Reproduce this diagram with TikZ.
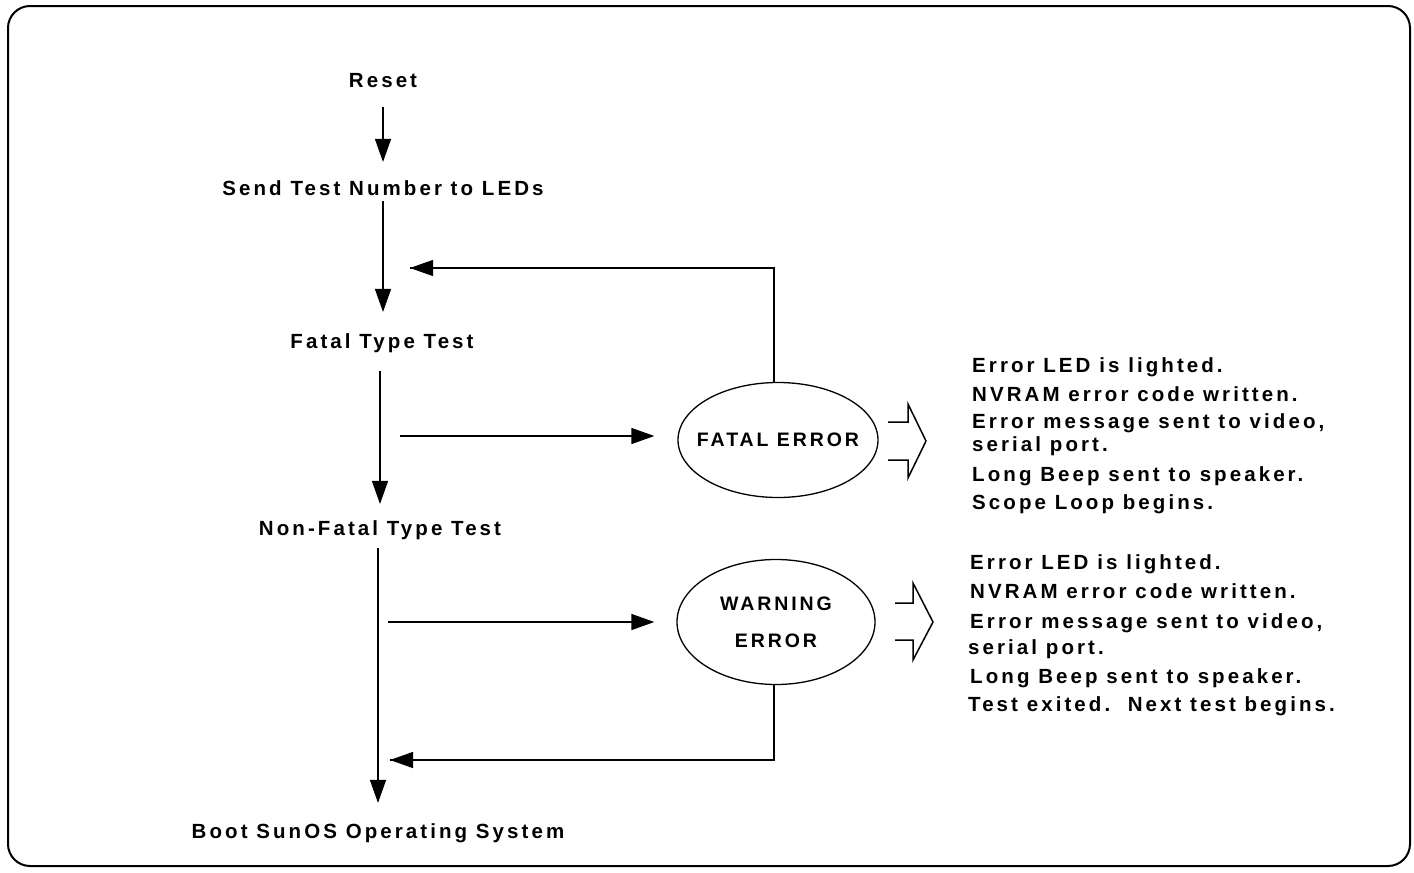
\documentclass[tikz,border=0pt]{standalone}
\usepackage{fontspec}
\setmainfont{Liberation Sans}[LetterSpace=15]
\usetikzlibrary{arrows.meta,shapes.geometric}
\tikzset{
  txtfont/.style={font=\fontsize{20.5}{22}\selectfont\bfseries},
  lbl/.style={txtfont, inner sep=0pt, anchor=base},
  info/.style={txtfont, inner sep=0pt, anchor=base west},
  arr/.style={line width=1.3pt, -{Triangle[length=23pt,width=16pt]}},
  plain/.style={line width=1.3pt},
  oval/.style={draw, ellipse, line width=1.3pt, inner sep=0pt},
  ovaltext/.style={font=\fontsize{19.5}{37}\selectfont\bfseries, align=center, inner sep=0pt},
  hollow/.style={line width=1.5pt, line join=miter}
}
\begin{document}
\begin{tikzpicture}[x=1pt,y=-1pt]
\useasboundingbox (0,0) rectangle (1414,873);
\draw[line width=2pt, rounded corners=22pt] (8,6) rectangle (1410,866);

\node[lbl] (reset) at (383,87) {Reset};
\node[lbl] (send) at (383,195) {Send Test Number to LEDs};
\node[lbl] (fatalt) at (382,348) {Fatal Type Test};
\node[lbl] (nonfatal) at (380,535) {Non-Fatal Type Test};
\node[lbl] (boot) at (378,838) {Boot SunOS Operating System};

\node[oval, minimum width=200pt, minimum height=115pt,
      label={[ovaltext]center:FATAL ERROR}] (fatal) at (778,440) {};
\node[oval, minimum width=198pt, minimum height=125pt,
      label={[ovaltext]center:WARNING\\ERROR}] (warn) at (776,622) {};

% main column
\draw[arr, shorten <=20pt, shorten >=18pt] (reset.south) -- (reset.south |- send.north);
\draw[arr, shorten <=6pt, shorten >=21pt] (send.south) -- (send.south |- fatalt.north);
\draw[arr, shorten <=19pt, shorten >=16pt] ([xshift=-2pt]fatalt.south) -- ([xshift=-2pt]fatalt.south |- nonfatal.north);
\draw[arr, shorten <=9pt, shorten >=20pt] ([xshift=-2pt]nonfatal.south) -- ([xshift=-2pt]nonfatal.south |- boot.north);

% to error ovals
\coordinate (f1) at (400,436);
\draw[arr, shorten >=23pt] (f1) -- (f1 -| fatal.west);
\coordinate (w1) at (388,622);
\draw[arr, shorten >=22pt] (w1) -- (w1 -| warn.west);

% feedback loops
\coordinate (fb) at (410,268);
\draw[plain] ([xshift=-4pt]fatal.north) |- (fb);
\draw[arr] ([xshift=-4pt]fatal.north |- fb) -- (fb);
\coordinate (wb) at (390,760);
\draw[plain] ([xshift=-2pt]warn.south) |- (wb);
\draw[arr] ([xshift=-2pt]warn.south |- wb) -- (wb);

% hollow arrows
\draw[hollow] (888,422) -- (908,422) -- (908,404) -- (926,441) -- (908,478) -- (908,460) -- (888,460);
\draw[hollow] (895,603) -- (913,603) -- (913,583) -- (933,622) -- (913,660) -- (913,640) -- (895,640);

% fatal error info
\node[info] (fa) at (972,372) {Error LED is lighted.};
\node[info] (fb2) at (972,401) {NVRAM error code written.};
\node[info] (fc) at (972,428) {Error message sent to video,};
\node[info] (fd) at (972,451) {serial port.};
\node[info] (fe) at (972,481) {Long Beep sent to speaker.};
\node[info] (ff) at (972,509) {Scope Loop begins.};

% warning info
\node[info] (wa) at (970,569) {Error LED is lighted.};
\node[info] (wb2) at (970,598) {NVRAM error code written.};
\node[info] (wc) at (970,628) {Error message sent to video,};
\node[info] (wd) at (968,654) {serial port.};
\node[info] (we) at (970,683) {Long Beep sent to speaker.};
\node[info] (wf) at (968,711) {Test exited.\ \ Next test begins.};
\end{tikzpicture}
\end{document}
